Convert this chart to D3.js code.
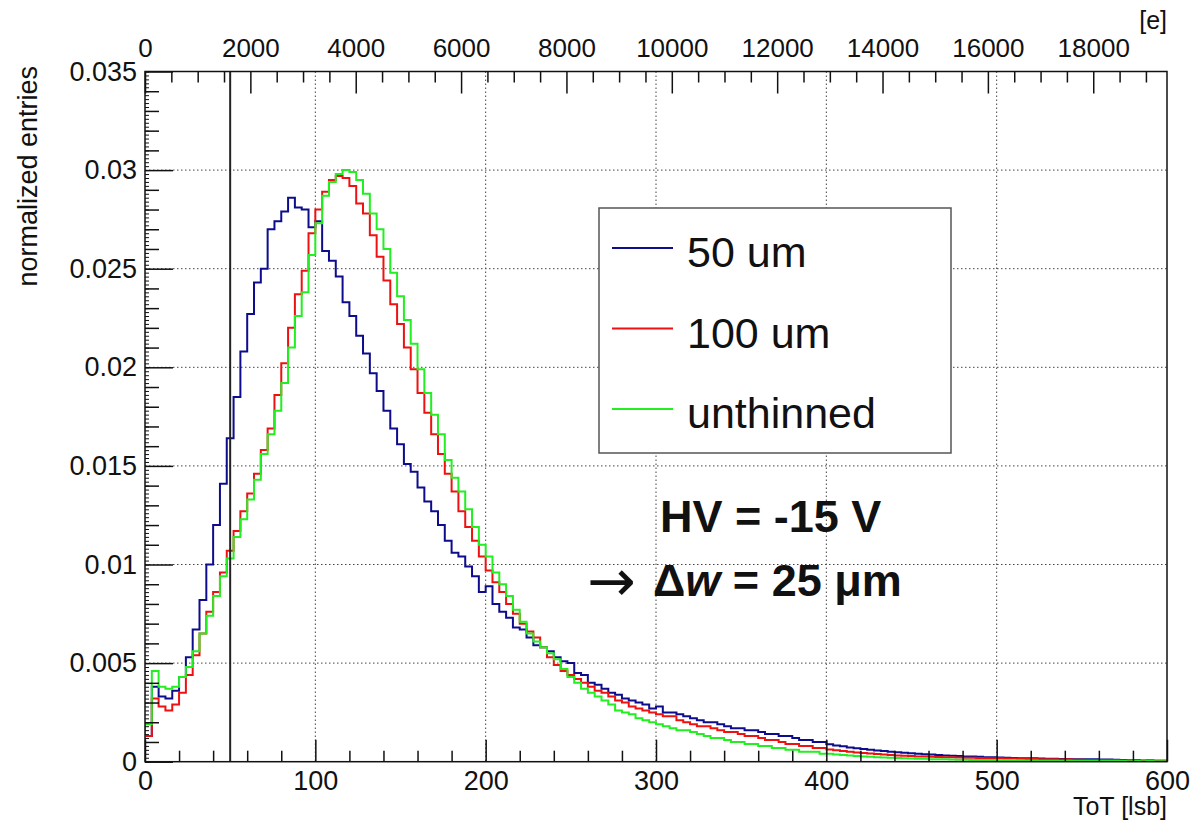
<!DOCTYPE html>
<html>
<head>
<meta charset="utf-8">
<script src="https://cdn.jsdelivr.net/npm/d3@7"></script>
<style>
	body { margin: 0; background: white; }
	svg { display: block; }
	text { font-family: "Liberation Sans", Arial, sans-serif; fill: #111; }
</style>
</head>
<body>
<div id="chart"></div>
<script>
// ToT histograms, 4 lsb bins from 0 to 600 (150 bins each)
var binWidth = 4;

var thin50 = [
	0.0013, 0.0038, 0.0033, 0.0032, 0.0036, 0.0043, 0.0053, 0.0067, 0.0082, 0.0100,
	0.0120, 0.0141, 0.0164, 0.0185, 0.0208, 0.0227, 0.0243, 0.0250, 0.0270, 0.0274,
	0.0279, 0.0286, 0.0281, 0.0280, 0.0271, 0.0274, 0.0259, 0.0254, 0.0246, 0.0233,
	0.0226, 0.0216, 0.0207, 0.0197, 0.0188, 0.0178, 0.0169, 0.0161, 0.0151, 0.0147,
	0.0139, 0.0132, 0.0127, 0.0120, 0.0112, 0.0106, 0.0104, 0.0099, 0.0094, 0.0086,
	0.0089, 0.0080, 0.0076, 0.0073, 0.0068, 0.0067, 0.0063, 0.0059, 0.0058, 0.0056,
	0.0053, 0.0051, 0.0050, 0.0045, 0.0044, 0.0040, 0.0039, 0.0037, 0.0035, 0.0034,
	0.0032, 0.0031, 0.0030, 0.0029, 0.0027, 0.0028, 0.0025, 0.0025, 0.0024, 0.0023,
	0.0022, 0.0021, 0.0020, 0.0020, 0.0019, 0.0018, 0.0017, 0.0017, 0.0016, 0.0016,
	0.0015, 0.0014, 0.0014, 0.0013, 0.0013, 0.0012, 0.0011, 0.0011, 0.0010, 0.0010,
	0.00088, 0.00082, 0.00078, 0.00072, 0.00068, 0.00064, 0.00060, 0.00057, 0.00054, 0.00051,
	0.00048, 0.00045, 0.00043, 0.00040, 0.00038, 0.00036, 0.00034, 0.00032, 0.00030, 0.00029,
	0.00027, 0.00026, 0.00025, 0.00023, 0.00022, 0.00021, 0.00020, 0.00019, 0.00018, 0.00018,
	0.00017, 0.00016, 0.00015, 0.00015, 0.00014, 0.00014, 0.00013, 0.00013, 0.00012, 0.00012,
	0.00011, 0.00011, 0.00010, 0.00008, 0.00006, 0.00006, 0.00005, 0.00005, 0.00004, 0.00004
];

var thin100 = [
	0.0013, 0.0032, 0.0028, 0.0026, 0.0029, 0.0035, 0.0044, 0.0054, 0.0065, 0.0076,
	0.0086, 0.0096, 0.0107, 0.0117, 0.0127, 0.0136, 0.0146, 0.0158, 0.0169, 0.0186,
	0.0202, 0.0220, 0.0237, 0.0249, 0.0268, 0.0280, 0.0289, 0.0295, 0.0297, 0.0296,
	0.0292, 0.0283, 0.0278, 0.0267, 0.0256, 0.0244, 0.0232, 0.0222, 0.0210, 0.0199,
	0.0187, 0.0177, 0.0166, 0.0156, 0.0146, 0.0137, 0.0127, 0.0119, 0.0112, 0.0104,
	0.0097, 0.0091, 0.0086, 0.0080, 0.0075, 0.0070, 0.0066, 0.0063, 0.0058, 0.0053,
	0.0049, 0.0046, 0.0044, 0.0042, 0.0040, 0.0038, 0.0036, 0.0035, 0.0033, 0.0031,
	0.0030, 0.0028, 0.0027, 0.0026, 0.0025, 0.0024, 0.0023, 0.0023, 0.0021, 0.0020,
	0.0019, 0.0018, 0.0018, 0.0017, 0.0016, 0.0015, 0.0015, 0.0014, 0.0013, 0.0013,
	0.0012, 0.0011, 0.0011, 0.0010, 0.0009, 0.0009, 0.0008, 0.0008, 0.0007, 0.0007,
	0.00062, 0.00058, 0.00054, 0.00050, 0.00047, 0.00044, 0.00041, 0.00039, 0.00036, 0.00034,
	0.00032, 0.00030, 0.00029, 0.00027, 0.00026, 0.00025, 0.00024, 0.00023, 0.00022, 0.00021,
	0.00020, 0.00020, 0.00019, 0.00018, 0.00018, 0.00017, 0.00016, 0.00016, 0.00015, 0.00014,
	0.00014, 0.00013, 0.00012, 0.00012, 0.00011, 0.00012, 0.00010, 0.00010, 0.00009, 0.00009,
	0.00009, 0.00008, 0.00008, 0.00007, 0.00007, 0.00008, 0.00006, 0.00007, 0.00006, 0.00006
];

var unthinned = [
	0.0019, 0.0046, 0.0038, 0.0037, 0.0038, 0.0043, 0.0048, 0.0056, 0.0065, 0.0074,
	0.0084, 0.0094, 0.0103, 0.0114, 0.0123, 0.0133, 0.0143, 0.0156, 0.0166, 0.0178,
	0.0192, 0.0210, 0.0226, 0.0238, 0.0257, 0.0273, 0.0287, 0.0294, 0.0298, 0.0300,
	0.0299, 0.0295, 0.0288, 0.0278, 0.0270, 0.0260, 0.0248, 0.0236, 0.0224, 0.0212,
	0.0199, 0.0187, 0.0176, 0.0166, 0.0153, 0.0144, 0.0137, 0.0128, 0.0119, 0.0110,
	0.0104, 0.0096, 0.0090, 0.0084, 0.0077, 0.0071, 0.0065, 0.0061, 0.0058, 0.0055,
	0.0052, 0.0047, 0.0043, 0.0040, 0.0037, 0.0035, 0.0033, 0.0031, 0.0029, 0.0026,
	0.0025, 0.0024, 0.0022, 0.0021, 0.0020, 0.0019, 0.0018, 0.0017, 0.0016, 0.0016,
	0.0015, 0.0014, 0.0013, 0.0012, 0.0012, 0.0011, 0.0010, 0.0010, 0.0009, 0.0009,
	0.0008, 0.0008, 0.0007, 0.0007, 0.0006, 0.0006, 0.0005, 0.0005, 0.0005, 0.0004,
	0.00040, 0.00036, 0.00034, 0.00031, 0.00029, 0.00027, 0.00025, 0.00023, 0.00021, 0.00020,
	0.00019, 0.00018, 0.00016, 0.00015, 0.00015, 0.00013, 0.00012, 0.00012, 0.00011, 0.00010,
	0.00010, 0.00009, 0.00009, 0.00008, 0.00008, 0.00007, 0.00007, 0.00006, 0.00007, 0.00006,
	0.00006, 0.00005, 0.00005, 0.00005, 0.00004, 0.00005, 0.00004, 0.00004, 0.00003, 0.00004,
	0.00003, 0.00004, 0.00003, 0.00003, 0.00002, 0.00003, 0.00002, 0.00003, 0.00002, 0.00002
];

var seriesNames = ["50 um", "100 um", "unthinned"];
var seriesColors = ["#0c0c8c", "#ee1111", "#22ee22"];

var xTicks = [0, 100, 200, 300, 400, 500, 600];
var yTicks = [0, 0.005, 0.01, 0.015, 0.02, 0.025, 0.03, 0.035];
var yTickLabels = ["0", "0.005", "0.01", "0.015", "0.02", "0.025", "0.03", "0.035"];
var eTicks = [0, 2000, 4000, 6000, 8000, 10000, 12000, 14000, 16000, 18000];
var cutValue = 50;

var W = 1204, H = 821;
var pL = 145, pR = 1167, pT = 71.5, pB = 761.7;

var svg = d3.select("#chart")
  .append("svg")
    .attr("width", W)
    .attr("height", H);

var x = d3.scaleLinear().domain([0, 600]).range([pL, pR]);
var y = d3.scaleLinear().domain([0, 0.035]).range([pB, pT]);
var xe = d3.scaleLinear().domain([0, 19400]).range([pL, pR]);

svg.append("clipPath")
    .attr("id", "plotClip")
  .append("rect")
    .attr("x", pL)
    .attr("y", pT)
    .attr("width", pR - pL)
    .attr("height", pB - pT);

// grid
var grid = svg.append("g").attr("class", "grid");
grid.selectAll("line.gx")
  .data(xTicks.slice(1, -1))
  .enter().append("line")
    .attr("x1", function(d) { return x(d); })
    .attr("x2", function(d) { return x(d); })
    .attr("y1", pT)
    .attr("y2", pB)
    .attr("stroke", "#444")
    .attr("stroke-width", 1)
    .attr("stroke-dasharray", "1.5,2.5");
grid.selectAll("line.gy")
  .data(yTicks.slice(1, -1))
  .enter().append("line")
    .attr("x1", pL)
    .attr("x2", pR)
    .attr("y1", function(d) { return y(d); })
    .attr("y2", function(d) { return y(d); })
    .attr("stroke", "#444")
    .attr("stroke-width", 1)
    .attr("stroke-dasharray", "1.5,2.5");

// histograms
function histPoints(values) {
	var pts = [[0, 0]];
	for(var i = 0; i < values.length; i++) {
		pts.push([i * binWidth, values[i]]);
		pts.push([(i + 1) * binWidth, values[i]]);
	}
	return pts;
}

var line = d3.line()
    .x(function(d) { return x(d[0]); })
    .y(function(d) { return y(d[1]); });

var allSeries = [thin50, thin100, unthinned];
svg.append("g")
    .attr("clip-path", "url(#plotClip)")
  .selectAll("path")
  .data(allSeries)
  .enter().append("path")
    .attr("d", function(d) { return line(histPoints(d)); })
    .attr("fill", "none")
    .attr("stroke", function(d, i) { return seriesColors[i]; })
    .attr("stroke-width", 2)
    .attr("stroke-linejoin", "miter");

// cut line
svg.append("line")
    .attr("x1", x(cutValue))
    .attr("x2", x(cutValue))
    .attr("y1", pT)
    .attr("y2", pB)
    .attr("stroke", "#222")
    .attr("stroke-width", 2);

// axes
function range(a, b, s) {
	var out = [];
	for(var v = a; v <= b + 1e-9; v += s) out.push(+v.toFixed(6));
	return out;
}

function styleAxis(g) {
	g.select(".domain").remove();
	g.selectAll(".tick line").attr("stroke", "#111").attr("stroke-width", 1.5);
	g.selectAll(".tick text").style("font-size", "27px").attr("fill", "#111");
}

var xMinor = range(0, 600, 20).filter(function(d) { return d % 100 !== 0; });
svg.append("g")
    .attr("transform", "translate(0," + pB + ")")
    .call(d3.axisBottom(x).tickValues(xMinor).tickSize(-11).tickFormat(""))
    .call(styleAxis);
svg.append("g")
    .attr("transform", "translate(0," + pB + ")")
    .call(d3.axisBottom(x).tickValues(xTicks).tickSize(-22).tickPadding(9).tickFormat(d3.format("d")))
    .call(styleAxis);

var yMinor = range(0, 0.035, 0.001).filter(function(d) { return Math.round(d * 1000) % 5 !== 0; });
var yTiny = range(0, 0.035, 0.0002);
svg.append("g")
    .attr("transform", "translate(" + pL + ",0)")
    .call(d3.axisLeft(y).tickValues(yTiny).tickSize(-4).tickFormat(""))
    .call(styleAxis)
    .selectAll(".tick line").attr("stroke-width", 1);
svg.append("g")
    .attr("transform", "translate(" + pL + ",0)")
    .call(d3.axisLeft(y).tickValues(yMinor).tickSize(-14).tickFormat(""))
    .call(styleAxis);
svg.append("g")
    .attr("transform", "translate(" + pL + ",0)")
    .call(d3.axisLeft(y).tickValues(yTicks).tickSize(-28).tickPadding(8)
      .tickFormat(function(d, i) { return yTickLabels[i]; }))
    .call(styleAxis);

var eMinor = range(0, 19000, 500).filter(function(d) { return d % 2000 !== 0; });
svg.append("g")
    .attr("transform", "translate(0," + pT + ")")
    .call(d3.axisTop(xe).tickValues(eMinor).tickSize(-11).tickFormat(""))
    .call(styleAxis);
svg.append("g")
    .attr("transform", "translate(0," + pT + ")")
    .call(d3.axisTop(xe).tickValues(eTicks).tickSize(-22).tickPadding(15).tickFormat(d3.format("d")))
    .call(styleAxis)
    .selectAll(".tick text").style("font-size", "26px");

// frame
svg.append("rect")
    .attr("x", pL)
    .attr("y", pT)
    .attr("width", pR - pL)
    .attr("height", pB - pT)
    .attr("fill", "none")
    .attr("stroke", "#111")
    .attr("stroke-width", 1.5);

// axis titles
svg.append("text")
    .attr("x", pR)
    .attr("y", 815)
    .attr("text-anchor", "end")
    .style("font-size", "25px")
    .text("ToT [lsb]");

svg.append("text")
    .attr("x", pR)
    .attr("y", 29)
    .attr("text-anchor", "end")
    .style("font-size", "25px")
    .text("[e]");

svg.append("text")
    .attr("transform", "translate(37,66) rotate(-90)")
    .attr("text-anchor", "end")
    .style("font-size", "27px")
    .text("normalized entries");

// legend
var legend = svg.append("g");
legend.append("rect")
    .attr("x", 599)
    .attr("y", 208)
    .attr("width", 352)
    .attr("height", 245)
    .attr("fill", "white")
    .attr("stroke", "#555")
    .attr("stroke-width", 1.5);

var entries = legend.selectAll("g.entry")
  .data(seriesNames)
  .enter().append("g")
    .attr("transform", function(d, i) { return "translate(0," + (267 + i * 80.5) + ")"; });
entries.append("line")
    .attr("x1", 612)
    .attr("x2", 673)
    .attr("y1", -19)
    .attr("y2", -19)
    .attr("stroke", function(d, i) { return seriesColors[i]; })
    .attr("stroke-width", 2);
entries.append("text")
    .attr("x", 687)
    .attr("y", 0)
    .style("font-size", "43px")
    .text(function(d) { return d; });

// annotation
svg.append("text")
    .attr("x", 660)
    .attr("y", 532)
    .style("font-size", "45px")
    .style("font-weight", "bold")
    .text("HV = -15 V");

svg.append("text")
    .attr("x", 587)
    .attr("y", 601)
    .style("font-family", "'DejaVu Sans', sans-serif")
    .style("font-size", "58px")
    .text("\u2192");

var note = svg.append("text")
    .attr("x", 653)
    .attr("y", 596)
    .style("font-size", "45px")
    .style("font-weight", "bold");
note.append("tspan").text("\u0394");
note.append("tspan").style("font-style", "italic").text("w");
note.append("tspan").text(" = 25 \u03bcm");
</script>
</body>
</html>
